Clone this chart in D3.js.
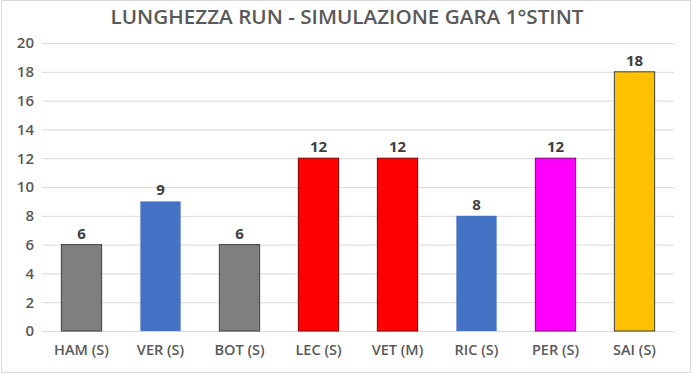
<!DOCTYPE html>
<html><head><meta charset="utf-8">
<script src="https://cdn.jsdelivr.net/npm/d3@7"></script>
<style>body{margin:0;background:#fff}svg{display:block}</style>
</head><body>
<script>
const categories = ["HAM (S)","VER (S)","BOT (S)","LEC (S)","VET (M)","RIC (S)","PER (S)","SAI (S)"];
const values = [6,9,6,12,12,8,12,18];
const fills = ["#7f7f7f","#4472c4","#7f7f7f","#ff0000","#ff0000","#4472c4","#ff00ff","#ffc000"];
const strokes = ["#404040",null,"#404040","#7f0000","#7f0000",null,"#7f007f","#404040"];
const yTicks = [0,2,4,6,8,10,12,14,16,18,20];
const title = "LUNGHEZZA RUN - SIMULAZIONE GARA 1°STINT";

const W=694,H=374;
const m={left:42,right:20,top:43,bottom:43};
const svg=d3.select("body").append("svg").attr("width",W).attr("height",H);
svg.append("rect").attr("x",1.5).attr("y",0.5).attr("width",689).attr("height",H-2).attr("fill","#fff").attr("stroke","#d9d9d9");
const font="'Open Sans', sans-serif";
const x=d3.scaleBand().domain(categories).range([m.left,674]).paddingInner(0.49).paddingOuter(0.245);
const y=d3.scaleLinear().domain([0,20]).range([331,43]);

svg.append("text").attr("x",347).attr("y",24).attr("text-anchor","middle")
 .attr("font-family",font).attr("font-weight","600").attr("font-size",19.5)
 .attr("textLength",473).attr("lengthAdjust","spacingAndGlyphs")
 .attr("fill","#595959").text(title);

const gy=svg.append("g").attr("transform",`translate(${m.left},0)`)
 .call(d3.axisLeft(y).tickValues(yTicks).tickSize(-(674-m.left)).tickPadding(8));
gy.select(".domain").remove();
gy.selectAll(".tick line").attr("stroke","#d9d9d9").attr("stroke-width",1);
gy.selectAll(".tick text").attr("font-family",font).attr("font-size",15).attr("font-weight","600").attr("fill","#595959");

const gx=svg.append("g").attr("transform","translate(0,331)")
 .call(d3.axisBottom(x).tickSize(0).tickPadding(14));
gx.select(".domain").remove();
gx.selectAll(".tick text").attr("font-family",font).attr("font-size",14.5).attr("font-weight","600").attr("fill","#595959");

svg.selectAll("rect.bar").data(values).join("rect").attr("class","bar")
 .attr("x",(d,i)=>x(categories[i])).attr("width",x.bandwidth())
 .attr("y",d=>y(d)).attr("height",d=>y(0)-y(d))
 .attr("fill",(d,i)=>fills[i])
 .attr("stroke",(d,i)=>strokes[i]||"none").attr("stroke-width",1);

svg.selectAll("text.lbl").data(values).join("text").attr("class","lbl")
 .attr("x",(d,i)=>x(categories[i])+x.bandwidth()/2).attr("y",d=>y(d)-6)
 .attr("text-anchor","middle").attr("font-family",font).attr("font-weight","bold").attr("font-size",15)
 .attr("fill","#404040").text(d=>d);
</script>
</body></html>
